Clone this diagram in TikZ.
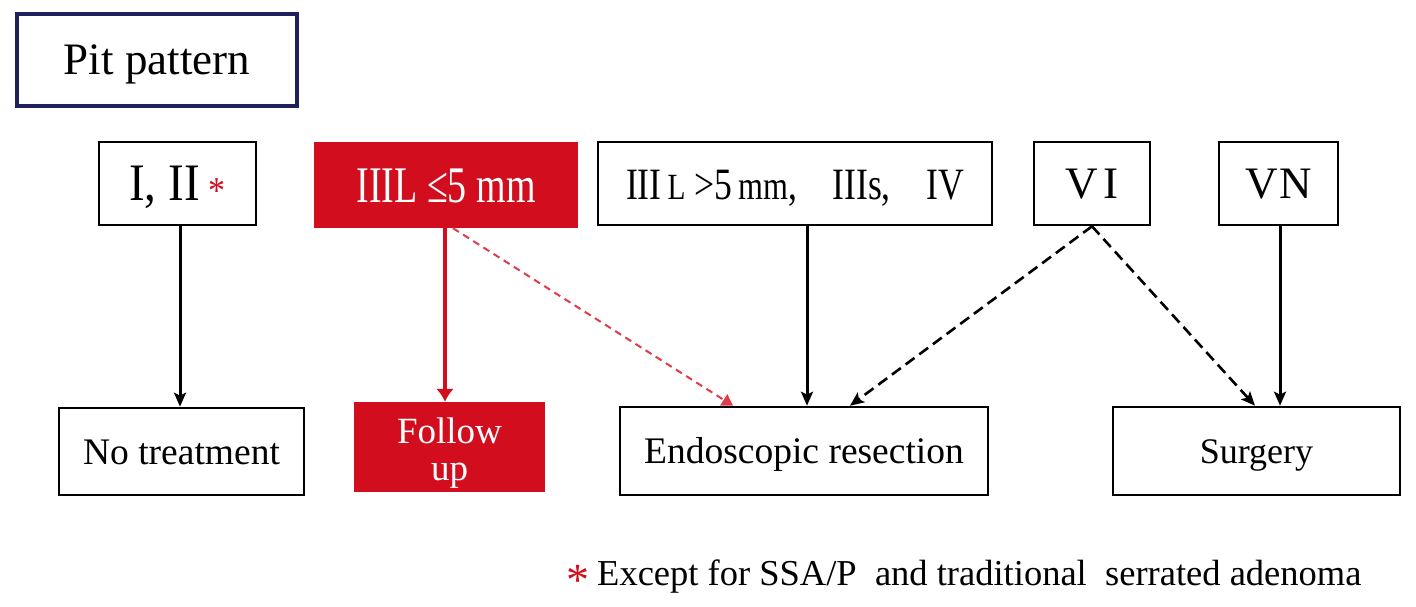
\documentclass[tikz,border=0pt]{standalone}
\usepackage{fontspec}
\setmainfont{Liberation Serif}
\usetikzlibrary{arrows.meta}
\definecolor{navy}{RGB}{32,32,92}
\definecolor{cred}{RGB}{210,14,30}
\definecolor{dred}{RGB}{222,60,72}
\newcommand\fs[1]{\fontsize{#1}{#1}\selectfont}
\begin{document}
\begin{tikzpicture}[x=1pt,y=-1pt,
  box/.style={draw=black,line width=2.6pt,inner sep=0pt,align=center,text depth=0pt},
  redbox/.style={fill=cred,draw=none,text=white,inner sep=0pt,align=center},
  arr/.style={line width=3pt,-{Stealth[length=14pt,width=12pt,inset=3pt]}},
  darr/.style={line width=2.6pt,dash pattern=on 11pt off 6pt,-{Stealth[length=14pt,width=12pt,inset=3pt]}},
  rarr/.style={draw=cred,line width=4pt,-{Latex[length=13pt,width=18pt]}},
  rdarr/.style={draw=dred,line width=2pt,dash pattern=on 7pt off 5pt,-{Triangle[length=11pt,width=13pt]}}]
\useasboundingbox (0,0) rectangle (1416,607);

% top boxes
\node[box,draw=navy,line width=3.2pt,minimum width=280pt,minimum height=92pt,text height=30pt,font=\fs{45}] (pit) at (157,60) {Pit pattern};
\node[box,minimum width=157pt,minimum height=83pt,text height=34pt,font=\fs{47}] (i2) at (177.5,183.5)
  {\scalebox{1}[1.12]{I, II\hspace{9pt}{\color{cred}\raisebox{-3pt}{\fs{34}*}}}};
\node[redbox,minimum width=264pt,minimum height=86pt,text height=34pt,text depth=0pt,font=\fs{38}] (iiil) at (446,185)
  {\scalebox{1}[1.35]{IIIL ≤5 mm}};
\node[box,minimum width=394pt,minimum height=83pt,text height=31pt,font=\fs{40}] (iiil5) at (795,183.5)
  {\scalebox{0.89}[1.12]{III\,{\fs{33}L} >5\,{\fs{36}mm},\quad IIIs,\quad IV}};
\node[box,minimum width=116pt,minimum height=83pt,text height=30pt,font=\fs{45}] (vi) at (1092,183.5) {V\kern5pt I};
\node[box,minimum width=119pt,minimum height=83pt,text height=30pt,font=\fs{45}] (vn) at (1278.5,183.5) {V\kern2pt N};

% bottom boxes
\node[box,minimum width=245pt,minimum height=87pt,text height=25pt,font=\fs{37.5}] (notr) at (181.5,451.5) {No treatment};
\node[redbox,minimum width=191pt,minimum height=90pt,font={\fontsize{37}{37}\selectfont}] (fu) at (449.5,447)
  {\raisebox{-14pt}[0pt][0pt]{\begin{tabular}{@{}c@{}}Follow\\up\end{tabular}}};
\node[box,minimum width=368pt,minimum height=88pt,text height=25pt,font=\fs{37.5}] (endo) at (804,451) {Endoscopic resection};
\node[box,minimum width=287pt,minimum height=88pt,text height=25pt,font=\fs{36}] (surg) at (1256.5,451) {Surgery};

% footnote
\node[anchor=base west,inner sep=0pt,font=\fs{36.5}] (note) at (566,585)
  {{\color{cred}\raisebox{-10pt}{\fs{46}*}}\hspace{8pt}Except for SSA/P\ \ and traditional\ \ serrated adenoma};

% connectors
\draw[arr] ([xshift=2.5pt]i2.south) -- ([xshift=-1.5pt]notr.north);
\draw[rarr] ([xshift=-1pt]iiil.south) -- ([xshift=-4.5pt]fu.north);
\draw[rdarr] ([xshift=7pt]iiil.south) -- ([xshift=-71pt]endo.north);
\draw[arr] ([xshift=12pt]iiil5.south) -- ([xshift=3pt]endo.north);
\draw[darr] (vi.south) -- ([xshift=46pt]endo.north);
\draw[darr] (vi.south) -- ([xshift=-1.5pt]surg.north);
\draw[arr] ([xshift=1.5pt]vn.south) -- ([xshift=23.5pt]surg.north);
\end{tikzpicture}
\end{document}
